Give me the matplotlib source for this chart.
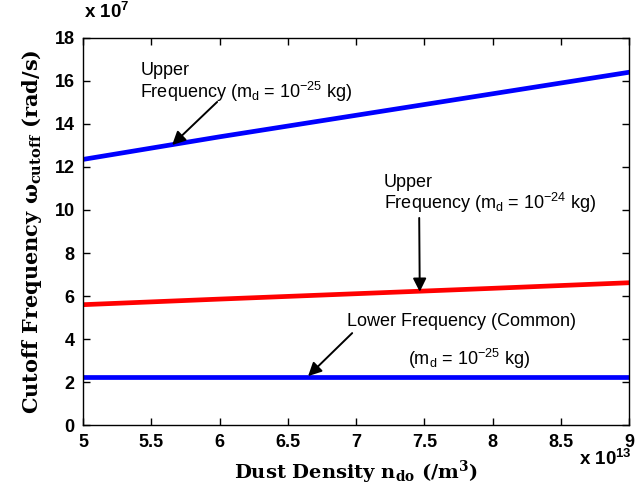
import matplotlib
matplotlib.use("Agg")
import matplotlib.pyplot as plt

density = [5.0, 6.0, 7.0, 8.0, 9.0]             # x 1e13 /m^3
upper_25 = [12.35, 13.4, 14.4, 15.4, 16.4]      # x 1e7 rad/s
upper_24 = [5.6, 5.86, 6.11, 6.36, 6.62]
lower_common = [2.25, 2.25, 2.25, 2.25, 2.25]

xticks = [5, 5.5, 6, 6.5, 7, 7.5, 8, 8.5, 9]
xticklabels = ['5', '5.5', '6', '6.5', '7', '7.5', '8', '8.5', '9']
yticks = [0, 2, 4, 6, 8, 10, 12, 14, 16, 18]

plt.rcParams['font.family'] = ['Liberation Sans', 'DejaVu Sans']

fig = plt.figure(figsize=(6.44, 4.91), dpi=100)
ax = fig.add_axes([0.129, 0.134, 0.848, 0.789])

ax.plot(density, upper_25, color='#0000ff', lw=3.4)
ax.plot(density, upper_24, color='#ff0000', lw=3.4)
ax.plot(density, lower_common, color='#0000ff', lw=3.4)

ax.set_xlim(5, 9)
ax.set_ylim(0, 18)
ax.set_xticks(xticks)
ax.set_xticklabels(xticklabels)
ax.set_yticks(yticks)
ax.tick_params(direction='in', top=True, right=True, length=5, width=1, labelsize=13, pad=6)
for lab in ax.get_xticklabels() + ax.get_yticklabels():
    lab.set_fontweight('bold')
for sp in ax.spines.values():
    sp.set_linewidth(1)

ax.set_ylabel(r'Cutoff Frequency $\mathregular{ω_{cutoff}}$ (rad/s)', labelpad=8,
              family=['DejaVu Serif'], fontweight='bold', fontsize=15)
ax.set_xlabel(r'Dust Density $\mathregular{n_{do}}$ (/m$\mathregular{^3}$)', labelpad=6,
              family=['DejaVu Serif'], fontweight='bold', fontsize=14)

fig.text(0.131, 0.955, r'x 10$\mathregular{^7}$', fontsize=13.5, fontweight='bold', ha='left', va='bottom')
fig.text(0.899, 0.045, r'x 10$\mathregular{^{13}}$', fontsize=13.5, fontweight='bold', ha='left', va='bottom')

fs = 13
arrow = dict(arrowstyle='-|>', color='black', lw=1.4, mutation_scale=20, shrinkA=0, shrinkB=0)

ax.text(5.418, 15.9, 'Upper\nFrequency (m$\\mathregular{_d}$ = 10$\\mathregular{^{-25}}$ kg)',
        fontsize=fs, ha='left', va='center', linespacing=1.0)
ax.annotate('', xy=(5.652, 13.02), xytext=(5.982, 15.02), arrowprops=arrow)

ax.text(7.205, 10.74, 'Upper\nFrequency (m$\\mathregular{_d}$ = 10$\\mathregular{^{-24}}$ kg)',
        fontsize=fs, ha='left', va='center', linespacing=1.0)
ax.annotate('', xy=(7.466, 6.2), xytext=(7.462, 9.63), arrowprops=arrow)

ax.text(6.934, 4.81, 'Lower Frequency (Common)', fontsize=fs, ha='left', va='center')
ax.text(7.381, 3.1, '(m$\\mathregular{_d}$ = 10$\\mathregular{^{-25}}$ kg)', fontsize=fs, ha='left', va='center')
ax.annotate('', xy=(6.648, 2.28), xytext=(6.971, 4.28), arrowprops=arrow)

fig.savefig('out.png', dpi=100)
